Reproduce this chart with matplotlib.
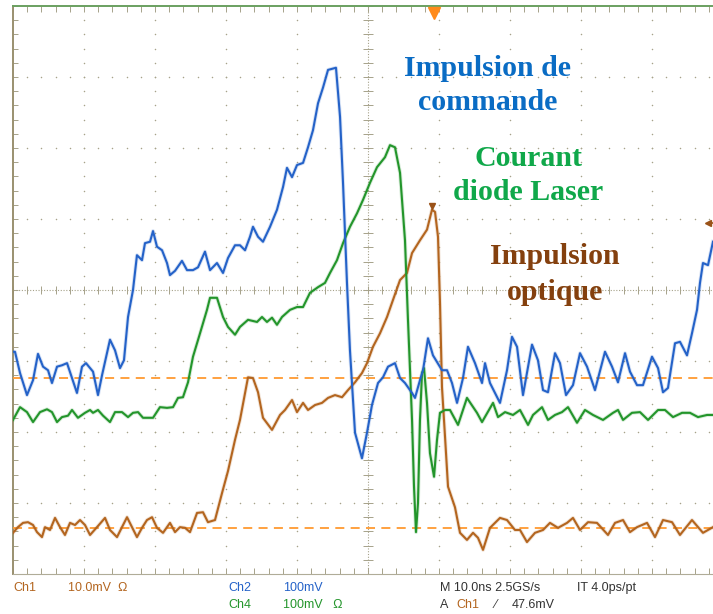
import numpy as np
import matplotlib.pyplot as plt

# Oscilloscope capture: time in ns (10 ns/div), level in screen divisions
# Ch2 - blue (command pulse)
ch2_t = [0.00, 0.28, 0.99, 1.97, 2.82, 3.52, 4.23, 4.93, 5.49, 6.20, 6.90, 7.61, 8.31, 9.01,
         9.72, 10.28, 11.27, 11.97, 12.54, 13.66, 14.37, 15.07, 15.63, 16.20, 16.90, 17.46,
         18.17, 18.59, 19.30, 19.72, 20.28, 20.99, 21.69, 22.11, 22.82, 23.80, 24.51, 25.35,
         26.06, 27.04, 27.75, 28.73, 29.58, 30.28, 31.27, 31.97, 32.68, 33.38, 33.80, 34.51,
         35.21, 36.20, 37.18, 38.03, 38.59, 39.30, 40.00, 40.85, 41.55, 42.25, 42.96, 43.66,
         44.37, 45.49, 46.06, 46.48, 47.04, 47.46, 48.17, 49.15, 49.86, 50.56, 51.41, 52.11,
         52.82, 53.80, 54.51, 55.21, 56.20, 56.62, 57.32, 57.75, 58.45, 59.15, 60.42, 61.13,
         61.83, 62.54, 63.38, 64.08, 65.07, 66.06, 66.48, 67.18, 68.59, 69.58, 70.28, 70.99,
         71.83, 73.10, 73.94, 74.65, 75.35, 76.34, 77.04, 77.89, 78.87, 79.86, 80.85, 81.97,
         83.38, 84.37, 85.21, 86.20, 86.90, 87.89, 88.73, 90.00, 90.85, 91.55, 92.25, 93.24,
         93.94, 94.93, 95.63, 96.34, 96.76, 97.18, 97.89, 98.59]
ch2_v = [-0.87, -0.87, -1.17, -1.48, -1.27, -0.90, -1.08, -1.13, -1.31, -1.08, -1.06, -1.03,
         -1.24, -1.45, -1.08, -1.03, -1.15, -1.48, -1.20, -0.70, -0.85, -1.10, -0.99, -0.38,
         0.00, 0.49, 0.42, 0.66, 0.68, 0.83, 0.61, 0.56, 0.38, 0.21, 0.27, 0.41, 0.28, 0.28,
         0.32, 0.54, 0.28, 0.38, 0.24, 0.45, 0.63, 0.63, 0.56, 0.75, 0.89, 0.75, 0.68, 0.89,
         1.13, 1.45, 1.72, 1.59, 1.76, 1.79, 2.01, 2.25, 2.63, 2.85, 3.10, 3.13, 2.44, 1.51,
         0.10, -0.85, -2.01, -2.37, -2.01, -1.62, -1.31, -1.23, -1.08, -1.03, -1.24, -1.31,
         -1.45, -1.52, -1.27, -1.13, -0.68, -0.92, -1.13, -1.13, -1.31, -1.59, -1.24, -0.80,
         -1.03, -1.31, -1.03, -1.31, -1.59, -1.13, -0.66, -0.80, -1.48, -0.77, -0.99, -1.41,
         -1.44, -0.89, -1.03, -1.48, -1.34, -0.89, -1.08, -1.41, -0.87, -1.08, -1.30, -0.89,
         -1.15, -1.34, -1.34, -0.94, -1.10, -1.44, -1.38, -0.75, -0.73, -0.92, -0.61, -0.28,
         0.10, 0.38, 0.35, 0.68]

# Ch4 - green (laser diode current)
ch4_t = [0.00, 0.99, 1.97, 2.82, 3.80, 4.79, 5.49, 6.20, 6.90, 7.75, 8.31, 9.15, 10.14, 10.85,
         11.27, 11.97, 12.68, 13.66, 14.37, 15.35, 16.20, 16.90, 17.61, 18.31, 19.72, 20.70,
         21.69, 22.54, 23.24, 23.94, 24.65, 25.35, 26.34, 27.32, 27.75, 28.73, 29.58, 30.28,
         31.27, 31.97, 33.10, 34.37, 35.07, 35.77, 36.48, 37.18, 37.89, 39.01, 40.00, 40.85,
         41.83, 42.96, 43.94, 44.65, 45.63, 46.48, 47.46, 48.45, 49.30, 50.28, 51.27, 52.39,
         53.10, 53.80, 54.51, 55.21, 55.63, 56.20, 56.48, 56.76, 57.04, 57.32, 57.61, 57.89,
         58.31, 58.73, 59.30, 59.72, 60.14, 60.85, 61.55, 62.68, 63.94, 65.35, 66.06, 67.61,
         68.31, 69.30, 70.42, 71.41, 72.54, 73.24, 74.51, 75.35, 76.34, 77.32, 78.17, 79.44,
         80.56, 81.69, 83.10, 84.51, 85.21, 85.92, 87.18, 88.31, 89.44, 90.85, 91.83, 92.96,
         94.23, 95.35, 96.48, 97.75, 98.59]
ch4_v = [-1.83, -1.65, -1.72, -1.86, -1.72, -1.68, -1.72, -1.86, -1.79, -1.77, -1.69, -1.80,
         -1.73, -1.69, -1.73, -1.69, -1.77, -1.86, -1.72, -1.72, -1.79, -1.73, -1.72, -1.80,
         -1.80, -1.65, -1.66, -1.65, -1.52, -1.51, -1.30, -0.94, -0.61, -0.28, -0.11, -0.11,
         -0.38, -0.52, -0.63, -0.52, -0.42, -0.45, -0.38, -0.45, -0.39, -0.49, -0.38, -0.28,
         -0.24, -0.24, -0.04, 0.04, 0.10, 0.24, 0.42, 0.66, 0.89, 1.08, 1.27, 1.51, 1.73, 1.87,
         2.04, 2.01, 1.65, 0.70, -0.42, -1.83, -2.77, -3.41, -3.00, -1.83, -1.17, -1.10, -1.59,
         -2.30, -2.63, -2.11, -1.73, -1.69, -1.69, -1.90, -1.52, -1.73, -1.86, -1.59, -1.79,
         -1.72, -1.76, -1.69, -1.90, -1.76, -1.65, -1.83, -1.76, -1.72, -1.65, -1.87, -1.69,
         -1.76, -1.83, -1.73, -1.69, -1.83, -1.73, -1.72, -1.83, -1.69, -1.69, -1.79, -1.73,
         -1.73, -1.79, -1.76, -1.76]

# Ch1 - brown (optical pulse)
ch1_t = [0.00, 0.70, 1.41, 2.11, 2.82, 3.38, 4.08, 4.51, 5.21, 5.92, 6.62, 7.32, 8.03, 8.73,
         9.44, 10.14, 10.85, 11.83, 12.96, 13.66, 14.65, 15.35, 16.06, 16.76, 17.46, 18.17,
         18.87, 19.58, 20.28, 21.13, 22.11, 22.82, 23.52, 24.23, 24.93, 25.92, 26.76, 27.46,
         28.45, 29.44, 30.28, 31.27, 31.97, 33.10, 33.80, 34.51, 35.21, 36.48, 37.61, 38.31,
         39.30, 40.00, 40.85, 41.55, 42.54, 43.52, 44.37, 45.35, 46.34, 47.18, 48.17, 49.15,
         49.86, 50.70, 51.69, 52.68, 53.52, 54.51, 55.49, 56.20, 57.32, 58.31, 59.01, 59.44,
         59.86, 60.14, 60.42, 60.85, 61.27, 62.25, 62.96, 63.94, 64.79, 65.49, 66.20, 67.18,
         68.59, 69.58, 70.70, 71.41, 72.39, 73.52, 74.65, 75.63, 76.76, 78.03, 78.87, 79.86,
         80.99, 82.25, 83.80, 84.79, 85.92, 86.90, 87.89, 89.30, 90.42, 91.55, 92.82, 93.94,
         95.63, 97.18, 98.59]
ch1_v = [-3.42, -3.34, -3.28, -3.27, -3.31, -3.41, -3.48, -3.34, -3.38, -3.21, -3.34, -3.45,
         -3.28, -3.31, -3.24, -3.31, -3.45, -3.34, -3.21, -3.38, -3.48, -3.34, -3.20, -3.34,
         -3.48, -3.35, -3.24, -3.20, -3.35, -3.42, -3.28, -3.41, -3.34, -3.35, -3.41, -3.14,
         -3.13, -3.27, -3.24, -2.86, -2.55, -2.11, -1.83, -1.23, -1.24, -1.44, -1.80, -1.97,
         -1.76, -1.69, -1.55, -1.72, -1.59, -1.69, -1.62, -1.59, -1.52, -1.48, -1.51, -1.41,
         -1.30, -1.17, -1.03, -0.80, -0.61, -0.38, -0.14, 0.14, 0.24, 0.52, 0.70, 0.85, 1.13,
         1.10, 0.75, -0.18, -1.37, -2.07, -2.77, -3.06, -3.42, -3.52, -3.42, -3.49, -3.66,
         -3.35, -3.21, -3.24, -3.38, -3.38, -3.55, -3.42, -3.38, -3.28, -3.35, -3.28, -3.21,
         -3.38, -3.27, -3.28, -3.45, -3.28, -3.24, -3.41, -3.34, -3.28, -3.48, -3.24, -3.27,
         -3.45, -3.24, -3.42, -3.34]

ref_levels = [-1.24, -3.35]   # orange dashed reference levels
trigger_t = 59.3              # trigger position marker
ch1_offset = 0.94             # Ch1 marker on the right edge

labels = [("Impulsion de", "commande"), ("Courant", "diode Laser"), ("Impulsion", "optique")]
label_colors = ["#0a6cc4", "#10a84a", "#84400e"]

c_blue, c_green, c_brown = "#2462c8", "#23952b", "#b3651f"
grid_col = "#a6a28a"

W, H = 713, 614
fig = plt.figure(figsize=(W / 100, H / 100), dpi=100)
ax = fig.add_axes([13 / W, 40 / H, 710 / W, 568 / H])
ax.set_xlim(0, 100)
ax.set_ylim(-4, 4)
ax.axis("off")

# graticule
xminor = np.arange(0, 100.01, 2)
yminor = np.arange(-4, 4.01, 0.2)
for xm in range(10, 100, 10):
    if xm != 50:
        ax.scatter([xm] * len(yminor), yminor, s=1.2, color=grid_col, lw=0, zorder=1)
for ym in range(-3, 4):
    if ym != 0:
        ax.scatter(xminor, [ym] * len(xminor), s=1.2, color=grid_col, lw=0, zorder=1)
ax.plot([0, 100], [0, 0], color=grid_col, lw=0.8, ls=(0, (1, 1.5)), zorder=1)
ax.plot([50, 50], [-4, 4], color=grid_col, lw=0.8, ls=(0, (1, 1.5)), zorder=1)
ax.vlines(xminor, -0.06, 0.06, color=grid_col, lw=0.7, zorder=1)
ax.hlines(yminor, 49.3, 50.7, color=grid_col, lw=0.7, zorder=1)
ax.vlines(xminor, 3.92, 4, color=grid_col, lw=0.7, zorder=1)
ax.vlines(xminor, -4, -3.92, color=grid_col, lw=0.7, zorder=1)
ax.hlines(yminor, 0, 0.7, color=grid_col, lw=0.7, zorder=1)
ax.plot([0, 0], [-4, 4], color="#9a9070", lw=1.4, clip_on=False)
ax.plot([0, 100], [-4, -4], color="#b0ac98", lw=0.8, clip_on=False)
ax.plot([0, 100], [4, 4], color="#6aa060", lw=1.4, clip_on=False)

for lvl in ref_levels:
    ax.axhline(lvl, color="#ff9a30", lw=1.3, ls=(0, (5, 3.5)), zorder=2)

# traces
for t, v, c in [(ch1_t, ch1_v, c_brown), (ch4_t, ch4_v, c_green), (ch2_t, ch2_v, c_blue)]:
    ax.plot(t, v, color=c, lw=2.8, alpha=0.18, zorder=3)
    ax.plot(t, v, color=c, lw=1.5, zorder=4)

peak = int(np.argmax(ch1_v))
ax.plot(ch1_t[peak], ch1_v[peak] + 0.05, marker="v", ms=5, color="#9a5218", zorder=5)
ax.plot(trigger_t, 3.9, marker="v", ms=9, color="#ff8a1a", clip_on=False, zorder=5)
ax.plot(97.9, ch1_offset, marker="<", ms=5, color="#9a5218", clip_on=False, zorder=5)
ax.plot([97.9, 98.8], [ch1_offset, ch1_offset], color="#9a5218", lw=1.2, clip_on=False)

# annotations
lab_pos = [(488, 68, 102), (528, 158, 193), (555, 256, 293)]
for (l1, l2), col, (x, y1, y2) in zip(labels, label_colors, lab_pos):
    for txt, y in [(l1, y1), (l2, y2)]:
        fig.text(x / W, 1 - y / H, txt, color=col, fontsize=21.5, fontweight="bold",
                 family="Liberation Serif", ha="center", va="center")

# status bar
font = dict(fontsize=9, family="Liberation Sans", va="center")
bottom = [
    (13, 588, "Ch1", c_brown), (68, 588, "10.0mV  \u03a9", c_brown),
    (228, 588, "Ch2", c_blue), (283, 588, "100mV", c_blue),
    (228, 605, "Ch4", c_green), (283, 605, "100mV   \u03a9", c_green),
    (440, 588, "M 10.0ns 2.5GS/s", "#333333"), (577, 588, "IT 4.0ps/pt", "#333333"),
    (440, 605, "A", "#333333"), (456, 605, "Ch1", c_brown), (495, 605, "\u2215", "#333333"),
    (512, 605, "47.6mV", "#333333"),
]
for x, y, txt, col in bottom:
    fig.text(x / W, 1 - y / H, txt, color=col, **font)

fig.savefig("out.png", dpi=100, facecolor="white")
